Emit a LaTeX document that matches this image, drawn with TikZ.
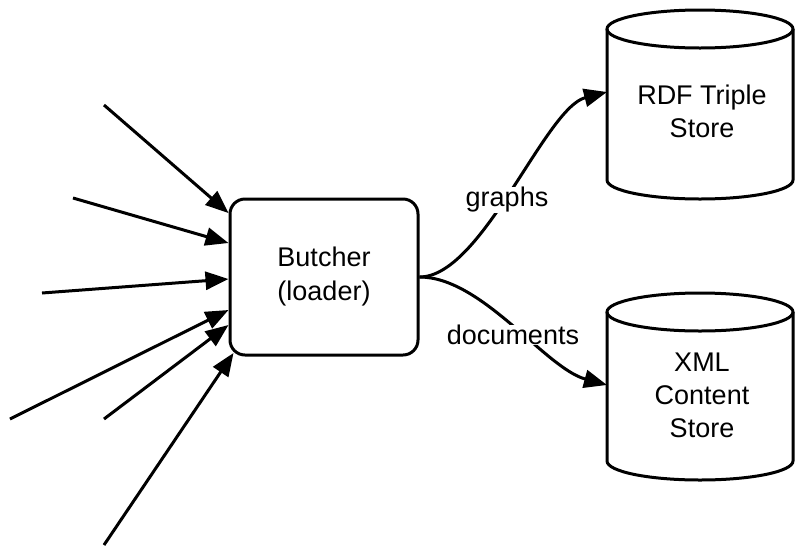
\documentclass[tikz,border=0pt]{standalone}
\usepackage{fontspec}
\setmainfont{Liberation Sans}
\usetikzlibrary{arrows.meta}
\begin{document}
\begin{tikzpicture}[x=1pt,y=-1pt,
  conn/.style={line width=3pt,-{Triangle[length=23pt,width=18pt]}},
  box/.style={draw,line width=3pt,rounded corners=15pt,minimum width=188pt,minimum height=156pt,align=center,font=\fontsize{27}{34}\selectfont},
  lbl/.style={fill=white,inner sep=0pt,font=\fontsize{27}{33}\selectfont},
  cyltext/.style={align=center,font=\fontsize{27}{33}\selectfont},
  cyl/.style={line width=3pt}]
\useasboundingbox (0,0) rectangle (795,547);
% cylinders
\draw[cyl] (607,29) -- (607,180) arc[start angle=180,end angle=360,x radius=93pt,y radius=19pt] -- (793,29);
\draw[cyl] (700,29) ellipse [x radius=93pt,y radius=19pt];
\draw[cyl] (607,312) -- (607,461) arc[start angle=180,end angle=360,x radius=93pt,y radius=19pt] -- (793,312);
\draw[cyl] (700,312) ellipse [x radius=93pt,y radius=19pt];
\node[cyltext] (rdf) at (702,111) {RDF Triple\\Store};
\node[cyltext] (xml) at (702,395) {XML\\Content\\Store};
\coordinate (rdfin) at (607,92);
\coordinate (xmlin) at (607,385);
% main box
\node[box] (box) at (324,277) {Butcher\\(loader)};
% inputs
\coordinate (s1) at (104,105);
\coordinate (s2) at (73,198);
\coordinate (s3) at (42,293);
\coordinate (s4) at (10,419);
\coordinate (s5) at (104,419);
\coordinate (s6) at (104,545);
\draw[conn] (s1) -- ([yshift=64pt]box.west);
\draw[conn] (s2) -- ([yshift=34pt]box.west);
\draw[conn] (s3) -- ([yshift=-2pt]box.west);
\draw[conn] (s4) -- ([yshift=-33pt]box.west);
\draw[conn] (s5) -- ([yshift=-48pt]box.west);
\draw[conn] (s6) -- ([xshift=5pt,yshift=-76pt]box.west);
% outputs
\draw[conn] (box.east) .. controls (482,277) and (545,108) .. (rdfin);
\draw[conn] (box.east) .. controls (482,277) and (545,368) .. (xmlin);
\node[lbl] (g) at (507,200) {graphs};
\node[lbl] (d) at (513,335) {documents};
\end{tikzpicture}
\end{document}
